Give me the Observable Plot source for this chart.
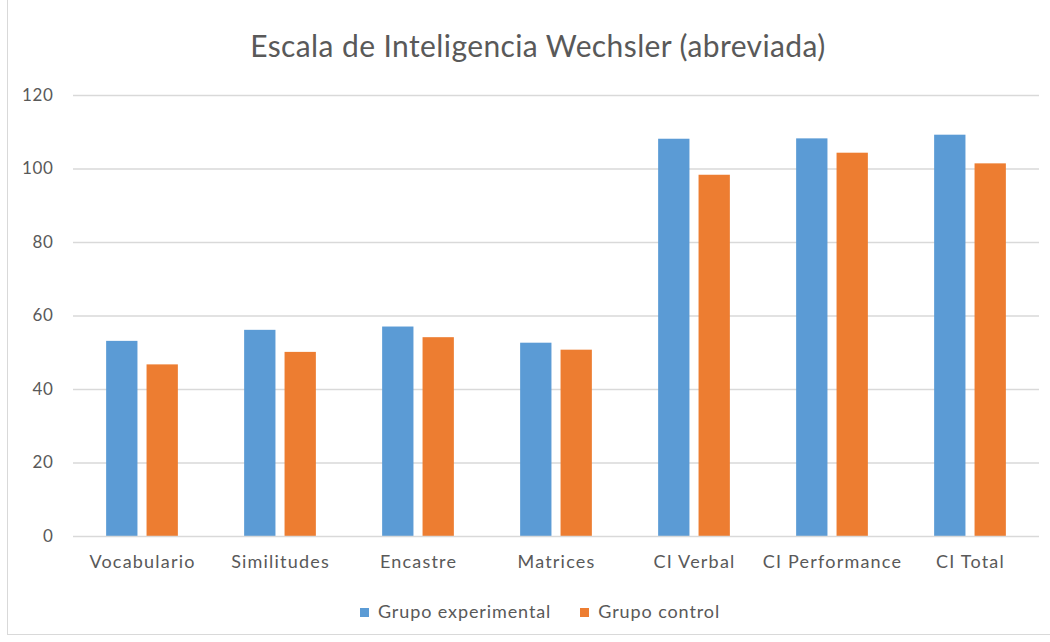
<!DOCTYPE html>
<html>
<head>
<meta charset="utf-8">
<script src="https://cdn.jsdelivr.net/npm/d3@7"></script>
<script src="https://cdn.jsdelivr.net/npm/@observablehq/plot@0.6"></script>
<style>
  html, body { margin: 0; padding: 0; background: #fff; }
  #frame { position: relative; width: 1042px; height: 634px; margin-left: 7px; border-left: 1px solid #d9d9d9; border-bottom: 1px solid #d9d9d9; font-family: Lato, "Open Sans", sans-serif; color: #595959; }
  #title { position: absolute; top: 27px; left: 0; width: 1060px; text-align: center; font-size: 30px; letter-spacing: 0.4px; }
  #chart { position: absolute; top: 70px; left: -8px; }
  #legend { position: absolute; top: 600px; left: 0; width: 1064px; display: flex; justify-content: center; gap: 29px; font-size: 18px; letter-spacing: 0.9px; }
  #legend span.sw { display: inline-block; width: 9px; height: 9px; margin-right: 9px; vertical-align: 1px; }
  #chart svg g[aria-label="fx-axis tick label"] text { letter-spacing: 1.2px; }
  #chart svg g[aria-label="y-axis tick label"] text { letter-spacing: 0.6px; }
</style>
</head>
<body>
<div id="frame">
  <div id="title">Escala de Inteligencia Wechsler (abreviada)</div>
  <div id="chart"></div>
  <div id="legend"></div>
</div>
<script>
const categories = ["Vocabulario", "Similitudes", "Encastre", "Matrices", "CI Verbal", "CI Performance", "CI Total"];
const groups = ["Grupo experimental", "Grupo control"];
const experimental = [53.1, 56.1, 57.0, 52.6, 108.1, 108.2, 109.2];
const control = [46.7, 50.1, 54.1, 50.7, 98.3, 104.3, 101.4];
const colors = ["#5B9BD5", "#ED7D31"];
const yTicks = [0, 20, 40, 60, 80, 100, 120];

const data = [];
categories.forEach((c, i) => {
  data.push({category: c, group: groups[0], value: experimental[i]});
  data.push({category: c, group: groups[1], value: control[i]});
});

const chart = Plot.plot({
  width: 1050,
  height: 511,
  marginLeft: 73,
  marginRight: 11,
  marginTop: 25,
  marginBottom: 45,
  style: {fontFamily: "Lato, 'Open Sans', sans-serif", fontSize: "17px", color: "#595959", background: "transparent", overflow: "visible"},
  fx: {domain: categories, padding: 0, round: false, label: null, tickSize: 0, tickPadding: 19, axis: "bottom"},
  x: {domain: groups, paddingInner: 0.225, paddingOuter: 0.82, round: false, axis: null},
  y: {domain: [0, 120], ticks: yTicks, label: null, tickSize: 0, tickPadding: 20},
  color: {domain: groups, range: colors},
  marks: [
    Plot.ruleY(yTicks.filter(d => d > 0), {stroke: "#d9d9d9", strokeWidth: 1.3}),
    Plot.barY(data, {fx: "category", x: "group", y: "value", fill: "group", inset: 0}),
    Plot.ruleY([0], {stroke: "#d9d9d9", strokeWidth: 1.3})
  ]
});
chart.querySelectorAll('g[aria-label="fx-axis tick label"] text').forEach(t => t.style.fontSize = "18px");
document.getElementById("chart").appendChild(chart);

const legend = document.getElementById("legend");
groups.forEach((g, i) => {
  const item = document.createElement("div");
  const sw = document.createElement("span");
  sw.className = "sw";
  sw.style.background = colors[i];
  item.appendChild(sw);
  item.appendChild(document.createTextNode(g));
  legend.appendChild(item);
});
</script>
</body>
</html>
